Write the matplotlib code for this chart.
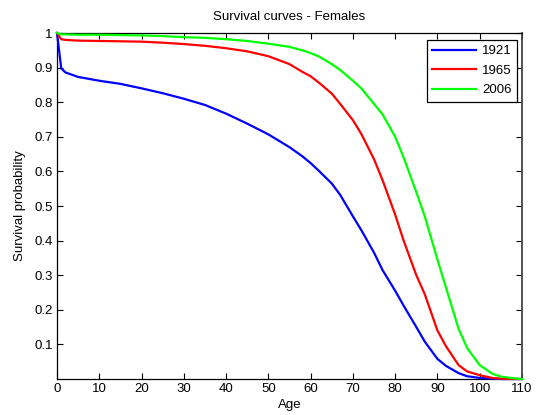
import matplotlib
matplotlib.use("Agg")
import matplotlib.pyplot as plt

# ages and survival probabilities
ages = [0, 1, 2, 5, 10, 15, 20, 25, 30, 35, 40, 45, 50, 55, 58, 60, 62, 65,
        67, 70, 72, 75, 77, 80, 82, 85, 87, 90, 92, 95, 97, 100, 103, 105,
        108, 110]
surv_1921 = [1.0, 0.898, 0.886, 0.873, 0.862, 0.853, 0.840, 0.826, 0.810,
             0.792, 0.767, 0.738, 0.707, 0.670, 0.644, 0.624, 0.601, 0.565,
             0.532, 0.470, 0.430, 0.365, 0.315, 0.255, 0.212, 0.150, 0.108,
             0.058, 0.038, 0.017, 0.008, 0.003, 0.001, 0.0, 0.0, 0.0]
surv_1965 = [1.0, 0.982, 0.980, 0.978, 0.977, 0.976, 0.975, 0.972, 0.968,
             0.963, 0.956, 0.947, 0.933, 0.910, 0.888, 0.875, 0.856, 0.825,
             0.795, 0.748, 0.708, 0.635, 0.575, 0.475, 0.400, 0.300, 0.245,
             0.140, 0.095, 0.040, 0.022, 0.011, 0.003, 0.001, 0.0, 0.0]
surv_2006 = [1.0, 0.996, 0.996, 0.995, 0.995, 0.994, 0.993, 0.991, 0.988,
             0.986, 0.982, 0.977, 0.969, 0.960, 0.950, 0.942, 0.932, 0.910,
             0.893, 0.862, 0.840, 0.795, 0.765, 0.700, 0.640, 0.540, 0.470,
             0.345, 0.265, 0.145, 0.090, 0.040, 0.015, 0.007, 0.002, 0.0]
years = ["1921", "1965", "2006"]
colors = ["#0000ff", "#ff0000", "#00ff00"]

xticks = list(range(0, 111, 10))
yticks = [0.1, 0.2, 0.3, 0.4, 0.5, 0.6, 0.7, 0.8, 0.9, 1.0]
ytick_labels = ["0.1", "0.2", "0.3", "0.4", "0.5", "0.6", "0.7", "0.8", "0.9", "1"]

plt.rcParams['font.family'] = ['Liberation Sans', 'DejaVu Sans']
plt.rcParams['font.size'] = 9.5

fig = plt.figure(figsize=(5.37, 4.15), dpi=100)
ax = fig.add_axes([57 / 537, 36 / 415, 465 / 537, 346 / 415])

for yr, s, c in zip(years, [surv_1921, surv_1965, surv_2006], colors):
    ax.plot(ages, s, color=c, lw=1.6, label=yr, clip_on=False, zorder=3)

ax.set_xlim(0, 110)
ax.set_ylim(0, 1)
ax.set_xticks(xticks)
ax.set_yticks(yticks)
ax.set_yticklabels(ytick_labels)
ax.tick_params(direction='in', top=True, right=True, length=4, width=0.8,
               labelsize=9.5, pad=3)
for sp in ax.spines.values():
    sp.set_linewidth(0.9)
    sp.set_color('black')
ax.spines['right'].set_color('#444444')
ax.spines['right'].set_linewidth(1.3)

ax.set_title("Survival curves - Females", fontsize=9.5, pad=9)
ax.set_xlabel("Age", fontsize=9.5, labelpad=3)
ax.set_ylabel("Survival probability", fontsize=9.5, labelpad=6)

leg = ax.legend(loc='upper right', bbox_to_anchor=(0.989, 0.98),
                borderaxespad=0, fancybox=False, framealpha=1,
                edgecolor='black', handlelength=3.3, borderpad=0.4,
                labelspacing=0.55, handletextpad=0.45, fontsize=9.5)
leg.get_frame().set_linewidth(0.9)

fig.savefig("out.png", dpi=100)
